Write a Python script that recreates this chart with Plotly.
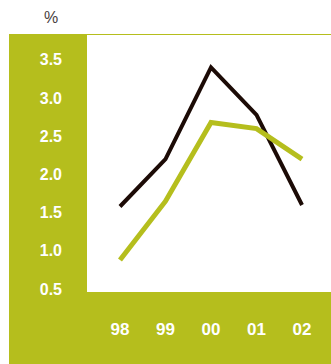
import plotly.graph_objects as go

years = ["98", "99", "00", "01", "02"]
series_black = [1.58, 2.2, 3.4, 2.78, 1.6]
series_green = [0.88, 1.65, 2.68, 2.6, 2.2]
y_ticks = [0.5, 1.0, 1.5, 2.0, 2.5, 3.0, 3.5]
y_tick_text = ["0.5", "1.0", "1.5", "2.0", "2.5", "3.0", "3.5"]
unit_label = "%"

OLIVE = "#b5be1d"
W, H = 331, 364
ML, MR, MT, MB = 87, 0, 35, 72
PW, PH = W - ML - MR, H - MT - MB

x_idx = list(range(len(years)))

fig = go.Figure()
fig.add_trace(go.Scatter(x=x_idx, y=series_black, mode="lines",
                         line=dict(color="#1c0b06", width=4), hoverinfo="skip"))
fig.add_trace(go.Scatter(x=x_idx, y=series_green, mode="lines",
                         line=dict(color=OLIVE, width=5), hoverinfo="skip"))

def px_x(p):
    return (p - ML) / PW

def px_y(p):
    return 1 - (p - MT) / PH

shapes = [
    dict(type="rect", xref="paper", yref="paper", x0=px_x(0), x1=px_x(W),
         y0=px_y(34), y1=px_y(0), fillcolor="white", line_width=0, layer="below"),
    dict(type="rect", xref="paper", yref="paper", x0=px_x(0), x1=px_x(9),
         y0=px_y(H), y1=px_y(0), fillcolor="white", line_width=0, layer="below"),
]

FONT = "Liberation Sans, Arial, sans-serif"

fig.update_layout(
    width=W, height=H,
    margin=dict(l=ML, r=MR, t=MT, b=MB, pad=0),
    paper_bgcolor=OLIVE,
    plot_bgcolor="white",
    showlegend=False,
    shapes=shapes,
    font=dict(family=FONT),
    xaxis=dict(range=[-0.725, 4.637], tickvals=x_idx, ticktext=years,
               showgrid=False, zeroline=False, showline=False, ticks="",
               ticklabelstandoff=25,
               tickfont=dict(color="white", size=17, family=FONT, weight="bold"),
               fixedrange=True),
    yaxis=dict(range=[0.461, 3.825], tickvals=y_ticks, ticktext=y_tick_text,
               showgrid=False, zeroline=False, showline=False, ticks="",
               ticklabelstandoff=24,
               tickfont=dict(color="white", size=16, family=FONT, weight="bold"),
               fixedrange=True),
    annotations=[dict(text=unit_label, xref="paper", yref="paper",
                      x=px_x(51), y=px_y(17), showarrow=False,
                      xanchor="center", yanchor="middle",
                      font=dict(color="#4a4040", size=16, family=FONT))],
)

fig.write_html("out.html", config={"displayModeBar": False})
